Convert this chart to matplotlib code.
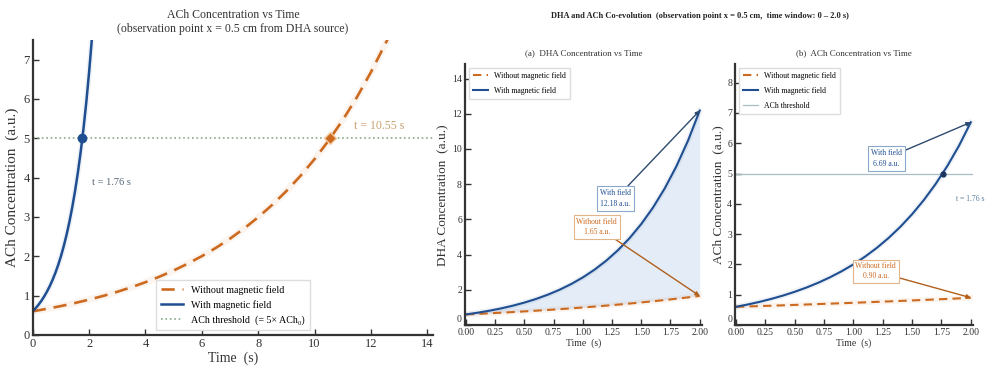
import matplotlib
matplotlib.use("Agg")
import matplotlib.pyplot as plt
from matplotlib import transforms

plt.rcParams['font.family'] = ['Liberation Serif', 'DejaVu Serif']

# ---------------- data ----------------
# left panel: long time window
t_long = [0.0, 0.5, 1.0, 1.5, 2.0, 2.5, 3.0, 3.5, 4.0, 4.5, 5.0, 5.5, 6.0, 6.5,
          7.0, 7.5, 8.0, 8.5, 9.0, 9.5, 10.0, 10.5, 11.0, 11.5, 12.0, 12.5, 12.6]
ach_without_long = [0.60, 0.663, 0.733, 0.811, 0.897, 0.991, 1.096, 1.212, 1.340,
                    1.481, 1.638, 1.811, 2.002, 2.213, 2.447, 2.706, 2.992, 3.308,
                    3.657, 4.043, 4.470, 4.942, 5.464, 6.041, 6.680, 7.386, 7.53]

# short time window (0 - 2.1 s)
t_short = [0.0, 0.1, 0.2, 0.3, 0.4, 0.5, 0.6, 0.7, 0.8, 0.9, 1.0, 1.1, 1.2, 1.3,
           1.4, 1.5, 1.6, 1.7, 1.8, 1.9, 2.0, 2.1]
ach_with = [0.600, 0.677, 0.763, 0.861, 0.971, 1.096, 1.236, 1.394, 1.573, 1.774,
            2.001, 2.258, 2.547, 2.873, 3.241, 3.656, 4.124, 4.651, 5.247, 5.919,
            6.69, 7.55]
ach_without = [0.600, 0.612, 0.625, 0.637, 0.650, 0.663, 0.677, 0.691, 0.705, 0.719,
               0.733, 0.748, 0.764, 0.779, 0.795, 0.811, 0.827, 0.844, 0.861, 0.879,
               0.90]
dha_with = [0.600, 0.697, 0.811, 0.942, 1.095, 1.273, 1.480, 1.721, 2.000, 2.325,
            2.703, 3.142, 3.652, 4.245, 4.934, 5.736, 6.667, 7.750, 9.009, 10.472,
            12.18]
dha_without = [0.600, 0.631, 0.664, 0.698, 0.735, 0.773, 0.813, 0.855, 0.899, 0.946,
               0.995, 1.047, 1.101, 1.158, 1.218, 1.282, 1.348, 1.418, 1.492, 1.569,
               1.65]

threshold = 5.0
t_cross_with = 1.76
t_cross_without = 10.55
dha_end_with = 12.18
dha_end_without = 1.65
ach_end_with = 6.69
ach_end_without = 0.90

ORANGE = '#cc6a1f'
BLUE = '#1f4f91'
THR = '#86ab8a'
SPINE = '#333333'

fig = plt.figure(figsize=(9.93, 3.66), dpi=100)


def style(ax, fs):
    for s in ['top', 'right']:
        ax.spines[s].set_visible(False)
    for s in ['left', 'bottom']:
        ax.spines[s].set_color(SPINE)
        ax.spines[s].set_linewidth(1.6)
    ax.tick_params(direction='in', labelsize=fs, colors=SPINE, length=4, width=1, pad=2)


def lift_zero(ax):
    # raise the y "0" label a little so it sits above the "0.00" x label
    lab = ax.get_yticklabels()[0]
    lab.set_transform(lab.get_transform() +
                      transforms.ScaledTranslation(0, 5 / 72, fig.dpi_scale_trans))


# ---------------- left panel ----------------
ax0 = fig.add_axes([0.033, 0.085, 0.403, 0.806])
ax0.plot(t_long, ach_without_long, color=ORANGE, lw=5, alpha=0.07, solid_capstyle='round')
ax0.plot(t_short, ach_with, color=BLUE, lw=4, alpha=0.07)
ax0.plot(t_long, ach_without_long, color=ORANGE, lw=1.9, ls=(0, (5, 3)),
         label='Without magnetic field')
ax0.plot(t_short, ach_with, color=BLUE, lw=1.8, label='With magnetic field')
ax0.axhline(threshold, color=THR, lw=1.2, ls=':', label='ACh threshold  (= 5× ACh₀)')
ax0.plot([t_cross_with], [threshold], 'o', color=BLUE, ms=6, zorder=5)
ax0.plot([t_cross_without], [threshold], 'D', color=ORANGE, ms=6.5, zorder=5,
         markeredgecolor='#f3c9a0', markeredgewidth=1)
ax0.text(2.1, 3.87, f't = {t_cross_with:.2f} s', color='#556677', fontsize=7.5, va='center')
ax0.text(11.4, 5.32, f't = {t_cross_without:.2f} s', color='#c9a070', fontsize=8.5, va='center')
ax0.set_xlim(0, 14.2)
ax0.set_ylim(0, 7.5)
ax0.set_xticks([0, 2, 4, 6, 8, 10, 12, 14])
ax0.set_yticks([0, 1, 2, 3, 4, 5, 6, 7])
style(ax0, 9)
ax0.set_xlabel('Time  (s)', fontsize=10, color=SPINE, labelpad=1)
ax0.set_ylabel('ACh Concentration  (a.u.)', fontsize=11, color=SPINE, labelpad=3)
ax0.set_title('ACh Concentration vs Time\n(observation point x = 0.5 cm from DHA source)',
              fontsize=8.5, color=SPINE, pad=6, linespacing=1.15)
ax0.legend(loc='lower center', bbox_to_anchor=(0.5, 0.0), fontsize=7.2, frameon=True,
           edgecolor='#dddddd', framealpha=1, fancybox=False, handlelength=2.2,
           borderpad=0.5, labelspacing=0.55)

# ---------------- right panels ----------------
fig.text(0.705, 0.957, 'DHA and ACh Co-evolution  (observation point x = 0.5 cm,  time window: 0 – 2.0 s)',
         ha='center', va='center', fontsize=6, fontweight='bold', color='#222222')

t2 = t_short[:len(dha_with)]
xt = [0, 0.25, 0.5, 0.75, 1.0, 1.25, 1.5, 1.75, 2.0]

ax1 = fig.add_axes([0.468, 0.112, 0.239, 0.712])
ax1.fill_between(t2, dha_without, dha_with, color='#9dbbe3', alpha=0.28, lw=0)
ax1.plot(t2, dha_without, color=ORANGE, lw=4, alpha=0.07)
ax1.plot(t2, dha_with, color=BLUE, lw=4, alpha=0.07)
ax1.plot(t2, dha_without, color=ORANGE, lw=1.5, ls=(0, (4, 2.5)), label='Without magnetic field')
ax1.plot(t2, dha_with, color=BLUE, lw=1.5, label='With magnetic field')
ax1.annotate(f'With field\n{dha_end_with:.2f} a.u.', xy=(2.0, dha_end_with),
             xytext=(1.28, 7.16), ha='center', va='center', fontsize=5.5, color=BLUE,
             linespacing=1.5,
             bbox=dict(boxstyle='square,pad=0.4', fc='white', ec='#8aa8cc', lw=0.8),
             arrowprops=dict(arrowstyle='-|>', color='#2e4a6e', lw=1.0, mutation_scale=6,
                             shrinkA=0, shrinkB=0))
ax1.annotate(f'Without field\n{dha_end_without:.2f} a.u.', xy=(2.0, dha_end_without),
             xytext=(1.12, 5.57), ha='center', va='center', fontsize=5.5, color=ORANGE,
             linespacing=1.3,
             bbox=dict(boxstyle='square,pad=0.35', fc='white', ec='#e0b58a', lw=0.8),
             arrowprops=dict(arrowstyle='-|>', color='#b2601c', lw=1.0, mutation_scale=6,
                             shrinkA=0, shrinkB=0))
ax1.set_xlim(-0.01, 2.02)
ax1.set_ylim(0, 14.8)
ax1.set_xticks(xt)
ax1.set_xticklabels([f'{v:.2f}' for v in xt])
ax1.set_yticks([0, 2, 4, 6, 8, 10, 12, 14])
style(ax1, 7)
lift_zero(ax1)
ax1.set_xlabel('Time  (s)', fontsize=7, color=SPINE, labelpad=1)
ax1.set_ylabel('DHA Concentration  (a.u.)', fontsize=9.5, color=SPINE, labelpad=2)
ax1.set_title('(a)  DHA Concentration vs Time', fontsize=6.5, color=SPINE, pad=7)
ax1.legend(loc='upper left', bbox_to_anchor=(0.0, 1.0), fontsize=5.6, frameon=True,
           edgecolor='#dddddd', framealpha=1, fancybox=False, handlelength=2.0,
           borderpad=0.5, labelspacing=0.9)

ax2 = fig.add_axes([0.740, 0.112, 0.240, 0.712])
ax2.plot(t2, ach_without, color=ORANGE, lw=4, alpha=0.07)
ax2.plot(t2, ach_with[:len(t2)], color=BLUE, lw=4, alpha=0.07)
ax2.plot(t2, ach_without, color=ORANGE, lw=1.5, ls=(0, (4, 2.5)), label='Without magnetic field')
ax2.plot(t2, ach_with[:len(t2)], color=BLUE, lw=1.5, label='With magnetic field')
ax2.axhline(threshold, color='#a9bcc6', lw=0.9, label='ACh threshold')
ax2.plot([t_cross_with], [threshold], 'o', color='#1c3560', ms=3.5, zorder=5)
ax2.text(1.87, 4.17, f't = {t_cross_with:.2f} s', color='#5a7a99', fontsize=5.5, va='center')
ax2.annotate(f'With field\n{ach_end_with:.2f} a.u.', xy=(2.0, ach_end_with),
             xytext=(1.28, 5.5), ha='center', va='center', fontsize=5.5, color=BLUE,
             linespacing=1.5,
             bbox=dict(boxstyle='square,pad=0.4', fc='white', ec='#8aa8cc', lw=0.8),
             arrowprops=dict(arrowstyle='-|>', color='#2e4a6e', lw=1.0, mutation_scale=6,
                             shrinkA=0, shrinkB=0))
ax2.annotate(f'Without field\n{ach_end_without:.2f} a.u.', xy=(2.0, ach_end_without),
             xytext=(1.19, 1.77), ha='center', va='center', fontsize=5.5, color=ORANGE,
             linespacing=1.3,
             bbox=dict(boxstyle='square,pad=0.35', fc='white', ec='#e0b58a', lw=0.8),
             arrowprops=dict(arrowstyle='-|>', color='#b2601c', lw=1.0, mutation_scale=6,
                             shrinkA=0, shrinkB=0))
ax2.set_xlim(-0.01, 2.02)
ax2.set_ylim(0, 8.6)
ax2.set_xticks(xt)
ax2.set_xticklabels([f'{v:.2f}' for v in xt])
ax2.set_yticks([0, 1, 2, 3, 4, 5, 6, 7, 8])
style(ax2, 7)
lift_zero(ax2)
ax2.set_xlabel('Time  (s)', fontsize=7, color=SPINE, labelpad=1)
ax2.set_ylabel('ACh Concentration  (a.u.)', fontsize=9.5, color=SPINE, labelpad=2)
ax2.set_title('(b)  ACh Concentration vs Time', fontsize=6.5, color=SPINE, pad=7)
ax2.legend(loc='upper left', bbox_to_anchor=(0.0, 1.0), fontsize=5.6, frameon=True,
           edgecolor='#dddddd', framealpha=1, fancybox=False, handlelength=2.0,
           borderpad=0.5, labelspacing=0.9)

fig.savefig('out.png', dpi=100)
